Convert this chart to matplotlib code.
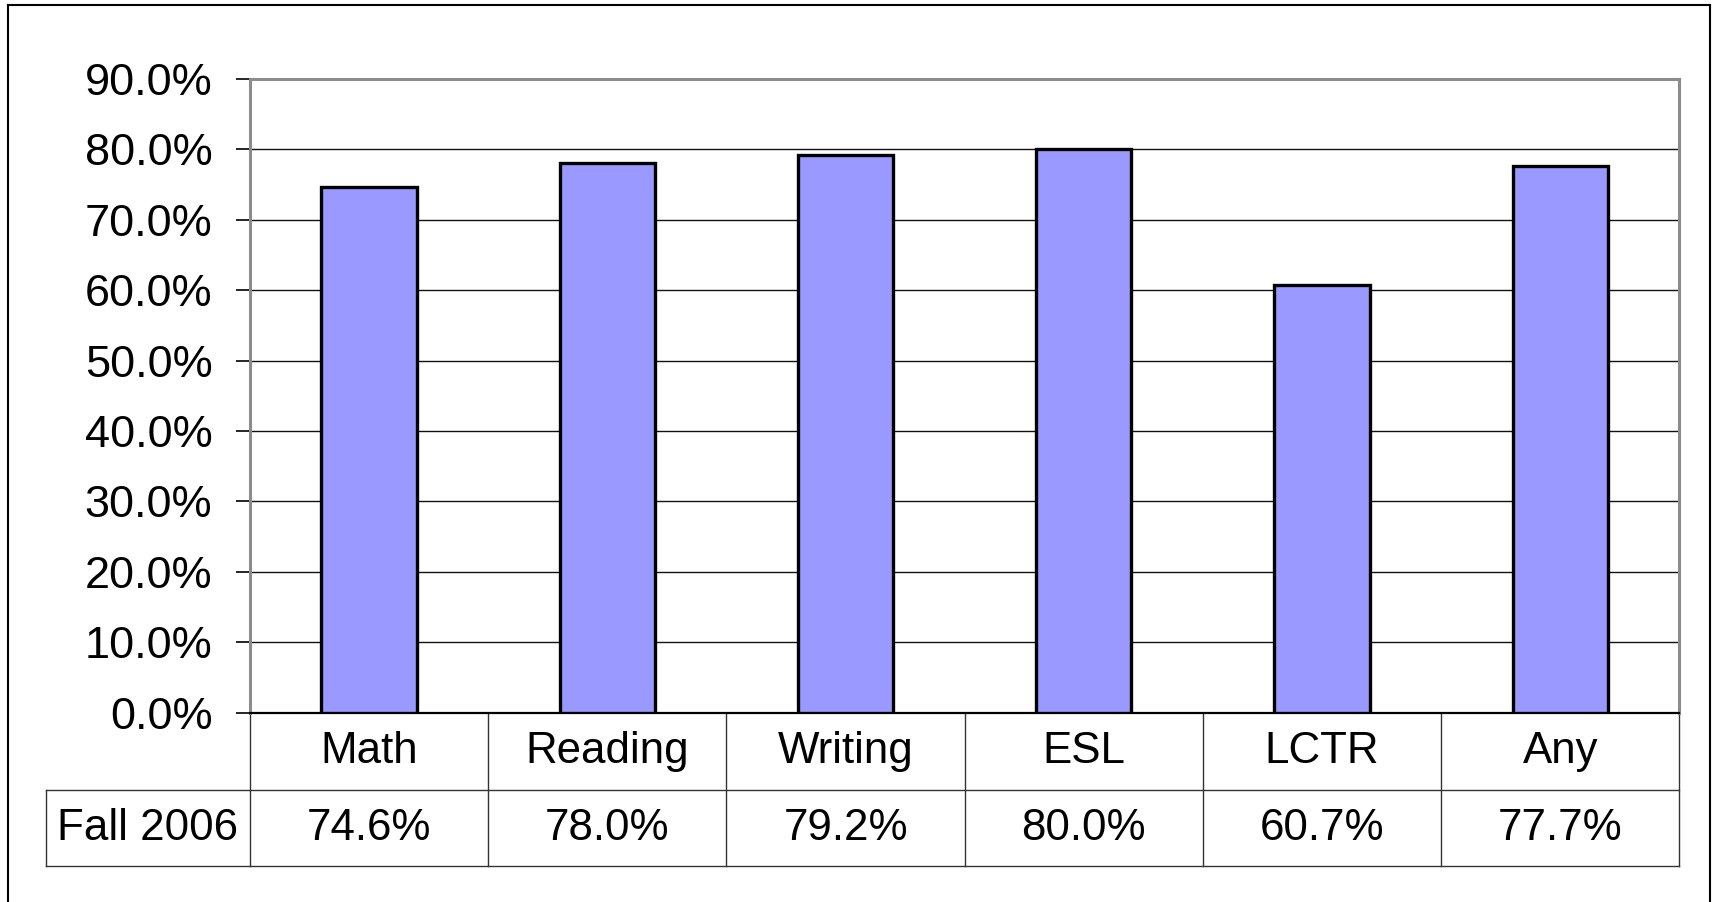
import matplotlib.pyplot as plt
import numpy as np
from matplotlib.lines import Line2D

categories = ['Math', 'Reading', 'Writing', 'ESL', 'LCTR', 'Any']
fall_2006 = [74.6, 78.0, 79.2, 80.0, 60.7, 77.7]
row_label = 'Fall 2006'
y_ticks = [0, 10, 20, 30, 40, 50, 60, 70, 80, 90]

plt.rcParams['font.family'] = ['Liberation Sans', 'DejaVu Sans']
FS_TICK = 32.5
FS_TABLE = 31.6

fig = plt.figure(figsize=(17.19, 9.02), dpi=100)
ax = fig.add_axes([0.1454, 0.21, 0.8316, 0.7024])

x = np.arange(len(categories))
ax.bar(x, fall_2006, width=0.4, color='#9999FF', edgecolor='black', linewidth=2.4, zorder=3)

ax.set_xlim(-0.5, len(categories) - 0.5)
ax.set_ylim(0, 90)
ax.set_yticks(y_ticks)
ax.set_yticklabels([f'{v:.1f}%' for v in y_ticks], fontsize=FS_TICK)
ax.tick_params(axis='y', direction='out', length=10, width=1.2, pad=17, color='black')
ax.set_xticks([])

# gridlines
for v in y_ticks[1:-1]:
    ax.axhline(v, color='#111111', linewidth=1.0, zorder=1)

for side in ['top', 'right', 'left']:
    ax.spines[side].set_color('#8c8c8c')
    ax.spines[side].set_linewidth(2.2)
ax.spines['bottom'].set_color('black')
ax.spines['bottom'].set_linewidth(1.6)

# data table under the chart
tr = ax.get_xaxis_transform()
row1_bottom = -0.1228
row2_bottom = -0.2422
label_left = -1.356
line_kw = dict(transform=tr, color='#333333', linewidth=1.0, clip_on=False)

for b in np.arange(len(categories) + 1) - 0.5:
    ax.add_line(Line2D([b, b], [0, row2_bottom], **line_kw))
ax.add_line(Line2D([label_left, len(categories) - 0.5], [row1_bottom, row1_bottom], **line_kw))
ax.add_line(Line2D([label_left, len(categories) - 0.5], [row2_bottom, row2_bottom], **line_kw))
ax.add_line(Line2D([label_left, label_left], [row1_bottom, row2_bottom], **line_kw))

for i, (cat, val) in enumerate(zip(categories, fall_2006)):
    ax.text(i, row1_bottom / 2, cat, transform=tr, ha='center', va='center', fontsize=FS_TABLE)
    ax.text(i, (row1_bottom + row2_bottom) / 2, f'{val:.1f}%', transform=tr,
            ha='center', va='center', fontsize=FS_TABLE)
ax.text((label_left - 0.5) / 2, (row1_bottom + row2_bottom) / 2, row_label, transform=tr,
        ha='center', va='center', fontsize=FS_TABLE)

# outer chart border
bx0, bx1, by1 = 8 / 1719, 1710 / 1719, 1 - 5 / 902
for xs, ys in [([bx0, bx0], [-0.1, by1]), ([bx0, bx1], [by1, by1]), ([bx1, bx1], [by1, -0.1])]:
    fig.add_artist(Line2D(xs, ys, transform=fig.transFigure, color='black', linewidth=1.5))

fig.savefig('out.png', dpi=100)
